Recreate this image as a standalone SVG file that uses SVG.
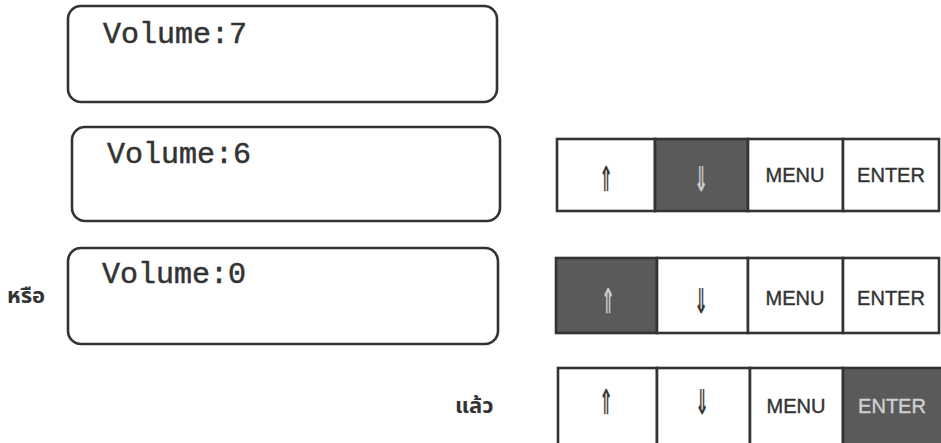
<svg xmlns="http://www.w3.org/2000/svg" width="941" height="443" viewBox="0 0 941 443">
  <style>
    .screen { fill: #ffffff; stroke: #333333; stroke-width: 2.6; }
    .vol { font-family: "Liberation Mono", "Courier New", monospace; font-size: 30px; fill: #333333; stroke: #333333; stroke-width: 0.5; }
    .cell { fill: #ffffff; stroke: #333333; stroke-width: 2.6; }
    .cell.on { fill: #5a5a5a; }
    .key { font-family: "Liberation Sans", Arial, sans-serif; font-size: 20px; fill: #333333; stroke: #333333; stroke-width: 0.4; text-anchor: middle; }
    .key.on { fill: #d0d0d0; stroke: #d0d0d0; }
    .arrow { font-family: "Noto Sans CJK JP", "Noto Sans CJK SC", sans-serif; font-size: 34px; fill: #333333; stroke: #333333; stroke-width: 0.6; text-anchor: middle; }
    .arrow.on { fill: #d0d0d0; stroke: #d0d0d0; }
    .thai { font-family: "Noto Sans Thai", "Noto Sans", "DejaVu Sans", sans-serif; font-size: 22px; font-weight: bold; fill: #333333; }
  </style>

  <!-- LCD screens -->
  <g id="screen-vol7">
    <rect class="screen" x="68" y="6" width="429" height="96" rx="13"/>
    <text class="vol" x="103" y="43">Volume:7</text>
  </g>
  <g id="screen-vol6">
    <rect class="screen" x="72" y="127" width="428" height="94" rx="13"/>
    <text class="vol" x="107" y="163">Volume:6</text>
  </g>
  <g id="screen-vol0">
    <rect class="screen" x="68" y="248" width="430" height="96" rx="13"/>
    <text class="vol" x="102" y="283">Volume:0</text>
  </g>

  <g id="label-or">
    <text class="thai" x="7" y="303">หรือ</text>
  </g>
  <g id="label-then">
    <text class="thai" x="455" y="413">แล้ว</text>
  </g>

  <!-- keypad: down pressed -->
  <g id="keys-down">
    <rect class="cell" x="557" y="139" width="98" height="72"/>
    <rect class="cell on" x="655" y="139" width="93" height="72"/>
    <rect class="cell" x="748" y="139" width="95" height="72"/>
    <rect class="cell" x="843" y="139" width="96" height="72"/>
    <text class="arrow" transform="translate(606,191) scale(0.5,1)">⇑</text>
    <text class="arrow on" transform="translate(701,191) scale(0.5,1)">⇓</text>
    <text class="key" x="795" y="182">MENU</text>
    <text class="key" x="891" y="182">ENTER</text>
  </g>

  <!-- keypad: up pressed -->
  <g id="keys-up">
    <rect class="cell on" x="556" y="258" width="101" height="75"/>
    <rect class="cell" x="657" y="258" width="91" height="75"/>
    <rect class="cell" x="748" y="258" width="95" height="75"/>
    <rect class="cell" x="843" y="258" width="96" height="75"/>
    <text class="arrow on" transform="translate(608,313) scale(0.5,1)">⇑</text>
    <text class="arrow" transform="translate(701,313) scale(0.5,1)">⇓</text>
    <text class="key" x="795" y="305">MENU</text>
    <text class="key" x="891" y="305">ENTER</text>
  </g>

  <!-- keypad: enter pressed -->
  <g id="keys-enter">
    <rect class="cell" x="558" y="368" width="99" height="80"/>
    <rect class="cell" x="657" y="368" width="93" height="80"/>
    <rect class="cell" x="750" y="368" width="93" height="80"/>
    <rect class="cell on" x="843" y="368" width="100" height="80"/>
    <text class="arrow" transform="translate(606,414) scale(0.5,1)">⇑</text>
    <text class="arrow" transform="translate(702,414) scale(0.5,1)">⇓</text>
    <text class="key" x="796" y="413">MENU</text>
    <text class="key on" x="892" y="413">ENTER</text>
  </g>
</svg>
